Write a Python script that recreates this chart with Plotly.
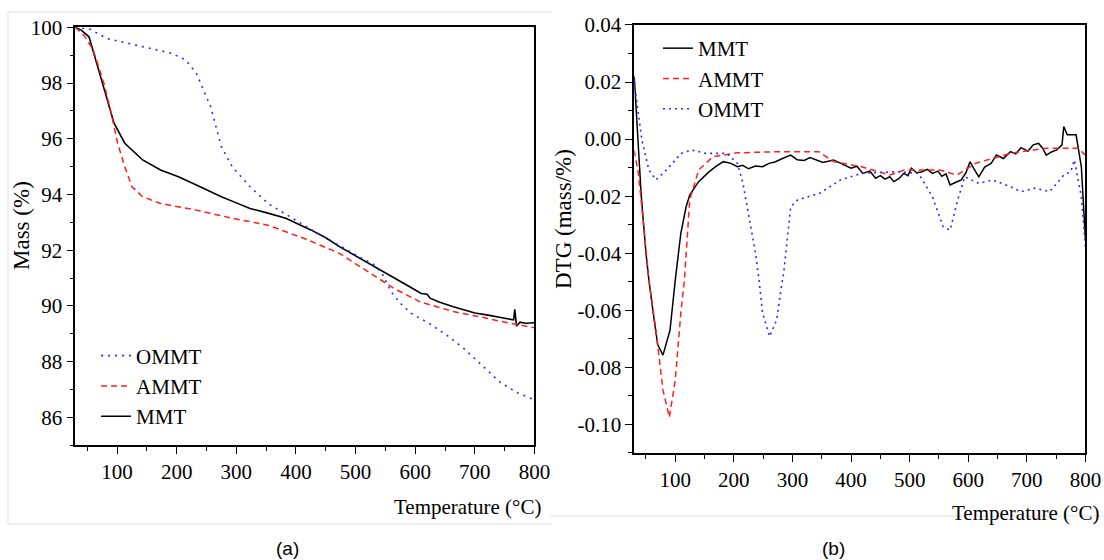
import plotly.graph_objects as go

# ---- (a) TGA mass curves ----
tga_mmt_t = [30, 40, 53, 62, 71, 83, 95, 113, 143, 173, 203, 233, 275, 300, 323, 350, 383,
             425, 450, 473, 503, 530, 563, 590, 610, 620, 625, 640, 664, 683, 700, 720, 743,
             765, 767, 770, 776, 785, 800]
tga_mmt_mass = [100.0, 99.9, 99.66, 99.0, 98.35, 97.39, 96.56, 95.84, 95.24, 94.88, 94.64, 94.34,
                93.92, 93.7, 93.5, 93.35, 93.15, 92.73, 92.45, 92.13, 91.77, 91.45, 91.05, 90.7,
                90.45, 90.42, 90.28, 90.14, 89.97, 89.86, 89.75, 89.68, 89.6, 89.5, 89.88,
                89.28, 89.42, 89.38, 89.4]

tga_ammt_t = [30, 45, 60, 78, 89, 101, 113, 125, 143, 173, 233, 293, 353, 413, 473, 533, 563,
              608, 664, 720, 743, 800]
tga_ammt_mass = [100.0, 99.7, 99.19, 97.99, 97.03, 95.84, 95.0, 94.28, 93.92, 93.68, 93.44,
                 93.15, 92.9, 92.43, 91.89, 91.05, 90.65, 90.15, 89.8, 89.56, 89.45, 89.22]

tga_ommt_t = [30, 55, 83, 143, 191, 215, 233, 245, 257, 266, 275, 293, 323, 353, 389, 425, 473,
              503, 530, 545, 560, 575, 593, 623, 653, 683, 713, 743, 773, 800]
tga_ommt_mass = [100.0, 99.93, 99.6, 99.3, 99.07, 98.83, 98.35, 97.75, 97.15, 96.43, 95.72, 95.0,
                 94.28, 93.68, 93.2, 92.75, 92.17, 91.8, 91.5, 91.15, 90.5, 90.1, 89.74, 89.38,
                 88.95, 88.45, 87.85, 87.25, 86.87, 86.63]

# ---- (b) DTG curves ----
dtg_mmt_t = [30, 35, 42, 50, 55, 64, 70, 79, 91, 100, 109.5, 118.5, 124.7, 139.8, 158, 170, 182,
             195, 206, 215, 225, 237, 249, 260, 270, 283, 297, 308, 320, 330, 339, 352, 370, 385,
             400, 410, 420, 432, 442, 450, 458, 466, 473, 482, 490, 497, 503, 512, 520, 530, 539,
             548, 555, 562, 569, 578, 588, 596, 603, 610, 618, 628, 639, 648, 660, 672, 681, 690,
             702, 711, 720, 727, 733, 742, 751, 756, 760, 763, 769, 784, 793, 800]
dtg_mmt = [0.022, 0.005, -0.02, -0.04, -0.0494, -0.0634, -0.072, -0.0757, -0.067, -0.0494, -0.033,
           -0.0237, -0.0196, -0.0149, -0.0114, -0.0095, -0.0079, -0.0085, -0.0097, -0.0092,
           -0.0104, -0.0094, -0.0097, -0.0085, -0.008, -0.0068, -0.0056, -0.0072, -0.0075,
           -0.0065, -0.0073, -0.0082, -0.0073, -0.0088, -0.0102, -0.0095, -0.012, -0.0112,
           -0.0137, -0.0128, -0.014, -0.0132, -0.0149, -0.0138, -0.012, -0.0128, -0.0102,
           -0.0118, -0.0115, -0.0106, -0.012, -0.0112, -0.013, -0.0122, -0.0161, -0.0152,
           -0.0143, -0.0118, -0.0079, -0.0105, -0.0132, -0.0098, -0.0085, -0.0056, -0.0068,
           -0.0044, -0.0052, -0.003, -0.0042, -0.002, -0.0015, -0.0032, -0.0056, -0.0045,
           -0.0038, -0.0028, -0.002, 0.0044, 0.0015, 0.0015, -0.0097, -0.0354]

dtg_ammt_t = [30, 37, 44, 55, 67, 79, 90, 100, 109.5, 115.6, 124.7, 140, 164, 206, 279, 345, 370,
              418, 466, 491, 551, 581, 612, 672, 733, 787, 800]
dtg_ammt = [-0.004, -0.012, -0.026, -0.0494, -0.0669, -0.088, -0.0975, -0.0844, -0.061, -0.0494,
            -0.0213, -0.0108, -0.0062, -0.0048, -0.0044, -0.0044, -0.0079, -0.0097, -0.0126,
            -0.0108, -0.0108, -0.0126, -0.0085, -0.005, -0.0032, -0.0032, -0.0056]

dtg_ommt_t = [30, 36, 43, 55, 67, 85, 110, 128, 152, 188, 206, 215, 225, 237, 243, 249, 261, 273,
              282, 285, 297, 309, 346, 382, 418, 479, 515, 539, 557, 569, 582, 594, 618, 642, 672,
              690, 714, 739, 763, 775, 781, 793, 800]
dtg_ommt = [0.02, 0.01, -0.0003, -0.0108, -0.0143, -0.0108, -0.005, -0.0038, -0.005, -0.005,
            -0.0085, -0.015, -0.026, -0.04, -0.0494, -0.061, -0.0692, -0.0634, -0.0505, -0.047,
            -0.0237, -0.0213, -0.019, -0.0143, -0.012, -0.0114, -0.012, -0.0202, -0.0307,
            -0.0319, -0.0213, -0.0132, -0.0155, -0.0143, -0.0167, -0.0184, -0.0172, -0.0184,
            -0.0126, -0.0114, -0.0073, -0.0202, -0.0377]

x_ticks = [100, 200, 300, 400, 500, 600, 700, 800]
mass_ticks = [86, 88, 90, 92, 94, 96, 98, 100]
dtg_ticks = [0.04, 0.02, 0.00, -0.02, -0.04, -0.06, -0.08, -0.10]
dtg_tick_text = ["0.04", "0.02", "0.00", "-0.02", "-0.04", "-0.06", "-0.08", "-0.10"]

SERIF = "Liberation Serif"
BLACK = "#000000"
RED = "#ff1f1f"
BLUE = "#2a2aff"

fig = go.Figure()

# left panel, added so that the reversed legend reads OMMT, AMMT, MMT
fig.add_trace(go.Scatter(x=tga_mmt_t, y=tga_mmt_mass, name="MMT", mode="lines",
                         line=dict(color=BLACK, width=1.6), xaxis="x", yaxis="y", legend="legend"))
fig.add_trace(go.Scatter(x=tga_ammt_t, y=tga_ammt_mass, name="AMMT", mode="lines",
                         line=dict(color=RED, width=1.5, dash="6px,4px"),
                         xaxis="x", yaxis="y", legend="legend"))
fig.add_trace(go.Scatter(x=tga_ommt_t, y=tga_ommt_mass, name="OMMT", mode="lines",
                         line=dict(color=BLUE, width=1.6, dash="2px,5px"),
                         xaxis="x", yaxis="y", legend="legend"))

# right panel
fig.add_trace(go.Scatter(x=dtg_mmt_t, y=dtg_mmt, name="MMT", mode="lines",
                         line=dict(color=BLACK, width=1.5), xaxis="x2", yaxis="y2", legend="legend2"))
fig.add_trace(go.Scatter(x=dtg_ammt_t, y=dtg_ammt, name="AMMT", mode="lines",
                         line=dict(color=RED, width=1.5, dash="6px,4px"),
                         xaxis="x2", yaxis="y2", legend="legend2"))
fig.add_trace(go.Scatter(x=dtg_ommt_t, y=dtg_ommt, name="OMMT", mode="lines",
                         line=dict(color=BLUE, width=1.6, dash="2px,4px"),
                         xaxis="x2", yaxis="y2", legend="legend2"))

axis_common = dict(
    showline=True, linecolor=BLACK, linewidth=1.5, mirror=True, showgrid=False, zeroline=False,
    ticks="outside", ticklen=7, tickwidth=1.3, tickcolor=BLACK, automargin=False,
    tickfont=dict(family=SERIF, size=21, color=BLACK),
)

fig.update_layout(
    width=1104,
    height=560,
    margin=dict(l=0, r=0, t=0, b=0),
    paper_bgcolor="white",
    plot_bgcolor="white",
    font=dict(family=SERIF, color=BLACK),
    xaxis=dict(domain=[0.0682, 0.4841], range=[30, 800], tickvals=x_ticks, anchor="y",
               minor=dict(dtick=50, tick0=0, ticks="outside", ticklen=4, tickcolor=BLACK),
               **axis_common),
    yaxis=dict(domain=[0.2048, 0.9512], range=[85, 100], tickvals=mass_ticks, anchor="x",
               minor=dict(dtick=1, tick0=85, ticks="outside", ticklen=4, tickcolor=BLACK),
               **axis_common),
    xaxis2=dict(domain=[0.5745, 0.9832], range=[30, 800], tickvals=x_ticks, anchor="y2",
                minor=dict(dtick=50, tick0=0, ticks="outside", ticklen=4, tickcolor=BLACK),
                **axis_common),
    yaxis2=dict(domain=[0.1911, 0.9554], range=[-0.11, 0.04], tickvals=dtg_ticks,
                ticktext=dtg_tick_text, anchor="x2",
                minor=dict(dtick=0.01, tick0=0, ticks="outside", ticklen=4, tickcolor=BLACK),
                **axis_common),
    legend=dict(x=0.087, y=0.401, xanchor="left", yanchor="top", traceorder="reversed",
                bgcolor="rgba(0,0,0,0)", font=dict(family=SERIF, size=21, color=BLACK)),
    legend2=dict(x=0.596, y=0.95, xanchor="left", yanchor="top", traceorder="normal",
                 bgcolor="rgba(0,0,0,0)", font=dict(family=SERIF, size=21, color=BLACK)),
    showlegend=True,
)

title_font = dict(family=SERIF, size=21, color=BLACK)
fig.add_annotation(text="Temperature (°C)", xref="paper", yref="paper", x=543 / 1104,
                   y=1 - 507 / 560, xanchor="right", yanchor="middle", showarrow=False,
                   font=title_font)
fig.add_annotation(text="Temperature (°C)", xref="paper", yref="paper", x=1101 / 1104,
                   y=1 - 513 / 560, xanchor="right", yanchor="middle", showarrow=False,
                   font=title_font)
fig.add_annotation(text="Mass (%)", xref="paper", yref="paper", x=21 / 1104, y=1 - 226 / 560,
                   xanchor="center", yanchor="middle", textangle=-90, showarrow=False,
                   font=dict(family=SERIF, size=23, color=BLACK))
fig.add_annotation(text="DTG (mass/%)", xref="paper", yref="paper", x=564 / 1104,
                   y=1 - 219 / 560, xanchor="center", yanchor="middle", textangle=-90,
                   showarrow=False, font=dict(family=SERIF, size=23, color=BLACK))
fig.add_annotation(text="(a)", xref="paper", yref="paper", x=287 / 1104, y=1 - 548 / 560,
                   xanchor="center", yanchor="middle", showarrow=False,
                   font=dict(family="Liberation Sans", size=19, color=BLACK))
fig.add_annotation(text="(b)", xref="paper", yref="paper", x=833 / 1104, y=1 - 548 / 560,
                   xanchor="center", yanchor="middle", showarrow=False,
                   font=dict(family="Liberation Sans", size=19, color=BLACK))

# faint frame lines of the original figure panels
frame = dict(color="#e2e2e2", width=1)
for x0, y0, x1, y1 in [(8, 12, 552, 12), (8, 12, 8, 524), (8, 524, 552, 524), (550, 516, 1104, 516)]:
    fig.add_shape(type="line", xref="paper", yref="paper", x0=x0 / 1104, x1=x1 / 1104,
                  y0=1 - y0 / 560, y1=1 - y1 / 560, line=frame, layer="below")

# the page body keeps its default 8px margin otherwise, which pushes the figure off the window
fig.write_html("out.html", config={"displayModeBar": False},
               post_script="document.body.style.margin='0px';"
                           "document.body.style.overflow='hidden';")
